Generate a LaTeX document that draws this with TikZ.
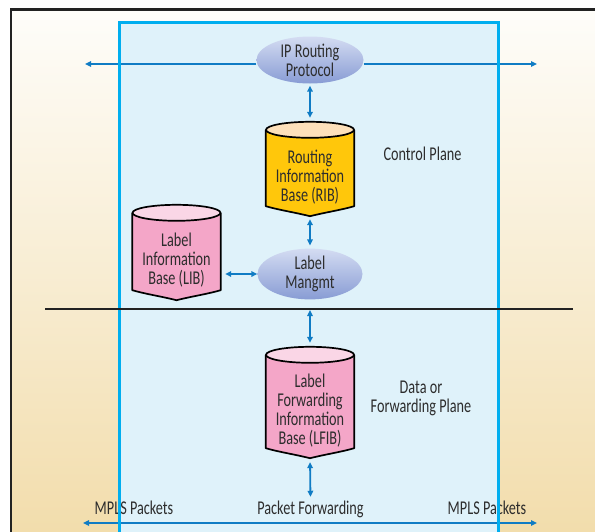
\documentclass[tikz,border=0pt]{standalone}
\usepackage{fontspec}
\setmainfont{Carlito}[FakeStretch=0.73]
\usetikzlibrary{arrows.meta,calc,shapes.geometric}

\definecolor{arrowblue}{RGB}{16,124,196}
\definecolor{paneblue}{RGB}{223,242,250}
\definecolor{paneedge}{RGB}{0,174,239}
\definecolor{ribbody}{RGB}{255,199,11}
\definecolor{riblid}{RGB}{253,224,186}
\definecolor{libbody}{RGB}{244,166,200}
\definecolor{liblid}{RGB}{250,214,230}
\definecolor{inktext}{RGB}{45,45,45}
\definecolor{ovaltop}{RGB}{212,220,242}
\definecolor{ovalbottom}{RGB}{136,156,212}
\definecolor{sandtop}{RGB}{254,253,250}
\definecolor{sandbottom}{RGB}{242,221,172}
\definecolor{frameink}{RGB}{34,34,34}

\pgfdeclarelayer{backdrop}
\pgfdeclarelayer{shapes}
\pgfsetlayers{backdrop,shapes,main}

% database drum around a text node: lid ellipse on top, pointed bottom
\newcommand\dbdrum[3]{%
  \begin{pgfonlayer}{shapes}
  \path[dbline, fill=#2] ([yshift=8pt]#1.north west) -- ([yshift=10pt]#1.south west)
     .. controls ([xshift=14pt,yshift=6pt]#1.south west) and ([xshift=-16pt,yshift=4pt]#1.south) .. (#1.south)
     .. controls ([xshift=16pt,yshift=4pt]#1.south) and ([xshift=-14pt,yshift=6pt]#1.south east) .. ([yshift=10pt]#1.south east)
     -- ([yshift=8pt]#1.north east) -- cycle;
  \path[dbline, fill=#3] ([yshift=8pt]#1.north) ellipse [x radius=44pt, y radius=8pt];
  \end{pgfonlayer}}

\begin{document}
\begin{tikzpicture}[x=1pt,y=-1pt,
  txt/.style={font=\fontsize{19.5}{19}\selectfont, text=inktext, align=center, inner sep=0pt},
  oval/.style={ellipse, inner xsep=0pt, inner ysep=-5pt, top color=ovaltop, bottom color=ovalbottom, draw=none, txt},
  dbbox/.style={rectangle, minimum width=88pt, txt},
  dbline/.style={draw=black, line width=1.7pt, line join=round},
  biarrow/.style={draw=arrowblue, line width=1.8pt, {Triangle[length=6pt,width=5.5pt]}-{Triangle[length=6pt,width=5.5pt]}},
  onearrow/.style={draw=arrowblue, line width=1.8pt, -{Triangle[length=6pt,width=5.5pt]}},
]
\useasboundingbox (0,0) rectangle (595,531);

% page, sand gradient, frame and the router pane
\begin{pgfonlayer}{backdrop}
  \fill[white] (0,0) rectangle (595,531);
  \shade[top color=sandtop, bottom color=sandbottom] (11,9) rectangle (600,531);
  \draw[frameink, line width=2.6pt] (11,540) -- (11,9.3) -- (600,9.3);
  \fill[paneblue] (119,22) rectangle (498.3,540);
\end{pgfonlayer}

% control plane
\node[oval, minimum width=107pt, minimum height=47pt] (ipr) at (310,60) {IP Routing\\Protocol};
\node[dbbox, minimum height=78pt] (rib) at (310,177) {Routing\\Information\\Base (RIB)};
\node[oval, minimum width=105pt, minimum height=42pt] (lm) at (310,274) {Label\\Mangmt};
\node[dbbox, minimum height=79pt] (lib) at (176.5,260.5) {Label\\Information\\Base (LIB)};
\node[txt] (cp) at (422.5,154) {Control Plane};

% data plane
\node[dbbox, minimum height=95pt] (lfib) at (310,410.5) {Label\\Forwarding\\Information\\Base (LFIB)};
\node[txt] (dp) at (421,398.5) {Data or\\Forwarding Plane};
\node[txt, anchor=base] (mplsl) at (134,514) {MPLS Packets};
\node[txt, anchor=base] (pf) at (310.5,514) {Packet Forwarding};
\node[txt, anchor=base] (mplsr) at (487,514) {MPLS Packets};

\dbdrum{rib}{ribbody}{riblid}
\dbdrum{lib}{libbody}{liblid}
\dbdrum{lfib}{libbody}{liblid}

\coordinate (tl) at (85,64);
\coordinate (tr) at (537,64);
\coordinate (cut) at (310,309);
\coordinate (bl) at (83,523);
\coordinate (br) at (537,523);

% connectors
\begin{pgfonlayer}{shapes}
  \draw[onearrow] (ipr.west |- tl) -- (tl);
  \draw[onearrow] (ipr.east |- tr) -- (tr);
\end{pgfonlayer}
\draw[biarrow, shorten <=2pt, shorten >=4pt] (ipr.south) -- ([yshift=16pt]rib.north);
\draw[biarrow, shorten <=3pt, shorten >=3pt] (rib.south) -- (lm.north);
\draw[biarrow, shorten >=4.5pt] (lm.west) -- (lm.west -| lib.east);
\draw[biarrow, shorten <=1pt, shorten >=4pt] (cut) -- ([yshift=16pt]lfib.north);
\draw[biarrow, shorten <=4pt, shorten >=3.5pt] (lfib.south) -- (pf.north);
\draw[biarrow] (bl) -- (br);

% pane outline and the plane divider
\draw[paneedge, line width=3pt] (119,540) -- (119,22) -- (498.3,22) -- (498.3,540);
\draw[frameink, line width=2pt] (45,309) -- (cut) -- (573,309);
\end{tikzpicture}
\end{document}
